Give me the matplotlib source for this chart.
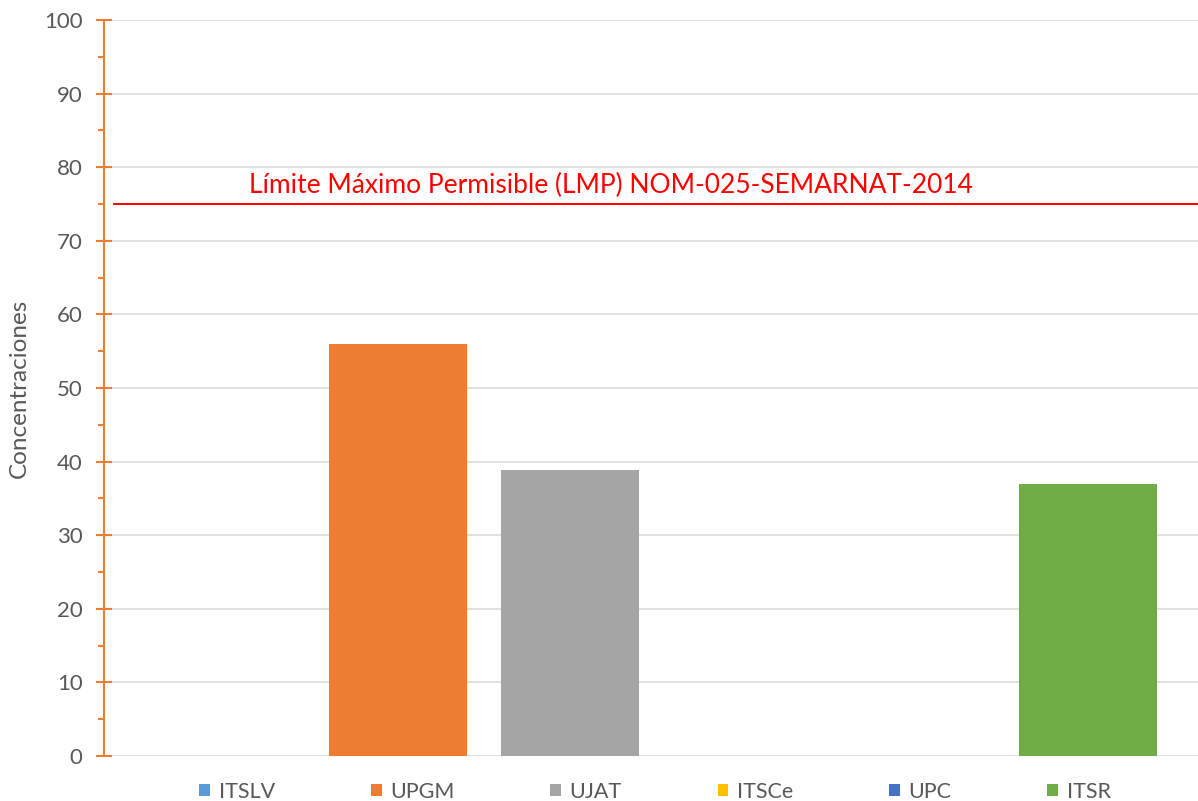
import matplotlib
matplotlib.use("Agg")
import matplotlib.pyplot as plt
from matplotlib.ticker import MultipleLocator

categories = ["ITSLV", "UPGM", "UJAT", "ITSCe", "UPC", "ITSR"]
values = [0, 56, 38.8, 0, 0, 37]
colors = ["#5B9BD5", "#ED7D31", "#A5A5A5", "#FFC000", "#4472C4", "#70AD47"]
lmp_value = 75
lmp_label = "Límite Máximo Permisible (LMP) NOM-025-SEMARNAT-2014"
y_label = "Concentraciones"

plt.rcParams['font.family'] = ['Lato', 'DejaVu Sans']

fig = plt.figure(figsize=(11.98, 8.01), dpi=100)
ax = fig.add_axes([104/1198, 1-756/801, 1-104/1198, (756-20)/801])

x = list(range(len(categories)))
handles = []
for xi, v, c, lab in zip(x, values, colors, categories):
    b = ax.bar(xi, v, width=0.8, color=c, label=lab, zorder=3)
    handles.append(b)

ax.set_xlim(-0.705, 5.64)
ax.set_ylim(0, 100)
ax.yaxis.set_major_locator(MultipleLocator(10))
ax.yaxis.set_minor_locator(MultipleLocator(5))
ax.set_xticks([])
ax.grid(axis='y', which='major', color='#D9D9D9', linewidth=1.1, zorder=0)
ax.set_axisbelow(True)

orange = "#ED7D31"
for s in ['top', 'right', 'bottom']:
    ax.spines[s].set_visible(False)
ax.spines['left'].set_color(orange)
ax.spines['left'].set_linewidth(1.5)
ax.tick_params(axis='y', which='major', direction='inout', length=11, width=1.5,
               color=orange, labelsize=16, labelcolor='#595959', pad=10)
ax.tick_params(axis='y', which='minor', direction='out', length=4, width=1.5, color=orange)

ax.axhline(lmp_value, xmin=10/1094, xmax=1, color='red', linewidth=1.4, zorder=4)
ax.text(0.136, 76.5, lmp_label, color='red', fontsize=19, va='baseline', ha='left', zorder=5)

ax.set_ylabel(y_label, fontsize=17.5, color='#595959', labelpad=10)

fig.legend(handles=handles, labels=categories, loc='center', bbox_to_anchor=(655/1198, 1-792/801),
           ncol=6, frameon=False, fontsize=15.5, handlelength=0.5, handleheight=0.5,
           handletextpad=0.4, columnspacing=4.45, labelcolor='#595959')

fig.savefig("out.png", dpi=100)
